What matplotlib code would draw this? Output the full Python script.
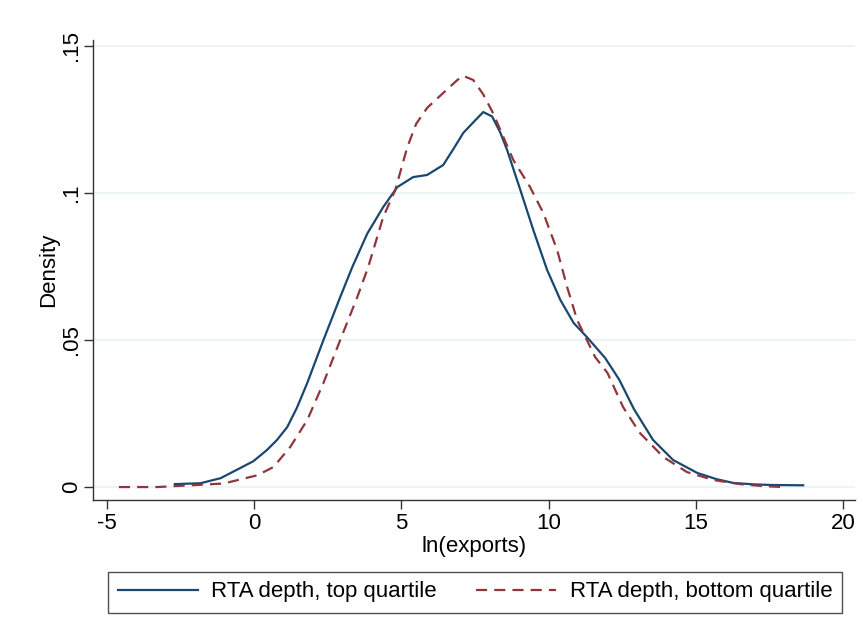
import matplotlib
matplotlib.use("Agg")
import matplotlib.pyplot as plt

plt.rcParams['font.family'] = ['Liberation Sans', 'DejaVu Sans']

# Top quartile density
top_x = [-2.7, -1.83, -1.15, -0.47, -0.03, 0.43, 0.77, 1.12, 1.45, 1.8, 2.35, 2.92, 3.33,
         3.84, 4.38, 4.86, 5.4, 5.87, 6.42, 6.8, 7.1, 7.44, 7.78, 8.08, 8.36, 8.59, 9.04,
         9.48, 9.95, 10.4, 10.85, 11.3, 11.92, 12.4, 12.9, 13.55, 14.23, 15.05, 15.7,
         16.27, 17.0, 17.6, 18.65]
top_y = [0.001, 0.0013, 0.003, 0.0065, 0.0088, 0.0126, 0.016, 0.0204, 0.027, 0.0354, 0.05,
         0.0646, 0.0748, 0.0862, 0.0952, 0.102, 0.1054, 0.1061, 0.1095, 0.1155, 0.1204,
         0.124, 0.1275, 0.126, 0.1205, 0.1146, 0.101, 0.0874, 0.0738, 0.0636, 0.0558, 0.051,
         0.0439, 0.0365, 0.0265, 0.016, 0.0092, 0.0048, 0.0027, 0.0014, 0.0009, 0.0007,
         0.0006]

# Bottom quartile density
bot_x = [-4.6, -3.3, -2.17, -1.05, -0.47, 0.1, 0.65, 1.22, 1.8, 2.35, 2.92, 3.5, 3.87,
         4.38, 4.79, 5.2, 5.5, 5.88, 6.42, 6.9, 7.1, 7.44, 7.78, 8.12, 8.36, 8.8, 9.37,
         9.82, 10.29, 10.63, 10.97, 11.3, 11.58, 12.0, 12.53, 13.1, 13.9, 14.7, 15.6,
         16.5, 17.3, 18.0]
bot_y = [0.0, 0.0, 0.0006, 0.0012, 0.0026, 0.004, 0.0068, 0.0136, 0.0228, 0.0354, 0.05,
         0.0646, 0.0748, 0.0918, 0.101, 0.1156, 0.1235, 0.129, 0.134, 0.1384, 0.1398,
         0.1384, 0.1335, 0.127, 0.1214, 0.1112, 0.102, 0.0932, 0.0806, 0.068, 0.0568,
         0.05, 0.0442, 0.0388, 0.0272, 0.0184, 0.0102, 0.0051, 0.0024, 0.001, 0.0003, 0.0]

xticks = [-5, 0, 5, 10, 15, 20]
yticks = [0, 0.05, 0.1, 0.15]
yticklabels = ['0', '.05', '.1', '.15']
labels = ['RTA depth, top quartile', 'RTA depth, bottom quartile']

fig = plt.figure(figsize=(8.62, 6.34), dpi=100)
ax = fig.add_axes([93/862, 1 - 500/634, (855 - 93)/862, (500 - 40)/634])

blue = '#1a476f'
red = '#90353b'
l1, = ax.plot(top_x, top_y, color=blue, lw=1.6, label=labels[0], solid_joinstyle='round')
l2, = ax.plot(bot_x, bot_y, color=red, lw=1.6, ls=(0, (5, 3.2)), label=labels[1])

ax.set_xlim(-5.48, 20.41)
ax.set_ylim(-0.0044, 0.152)
ax.set_xticks(xticks)
ax.set_xticklabels([str(t) for t in xticks])
ax.set_yticks(yticks)
ax.set_yticklabels(yticklabels, rotation=90, va='center')
ax.tick_params(axis='both', labelsize=16, direction='out', length=6.5, width=1, color='#333333')
ax.tick_params(axis='y', pad=1.5)
ax.tick_params(axis='x', pad=3)
ax.grid(axis='y', color='#eaf2f3', lw=1.2)
ax.set_axisbelow(True)
for s in ['top', 'right']:
    ax.spines[s].set_visible(False)
for s in ['left', 'bottom']:
    ax.spines[s].set_color('#333333')
    ax.spines[s].set_linewidth(1)

ax.set_xlabel('ln(exports)', fontsize=16, labelpad=1)
ax.set_ylabel('Density', fontsize=16, labelpad=1)

leg = fig.legend(handles=[l1, l2], loc='center', bbox_to_anchor=(475/862, 1 - 592/634),
                 ncol=2, fontsize=16, frameon=True, fancybox=False, handlelength=3.6,
                 columnspacing=1.8, borderpad=0.45, handletextpad=0.6, borderaxespad=0)
leg.get_frame().set_edgecolor('#222222')
leg.get_frame().set_linewidth(1)

fig.savefig('out.png', dpi=100, facecolor='white')
